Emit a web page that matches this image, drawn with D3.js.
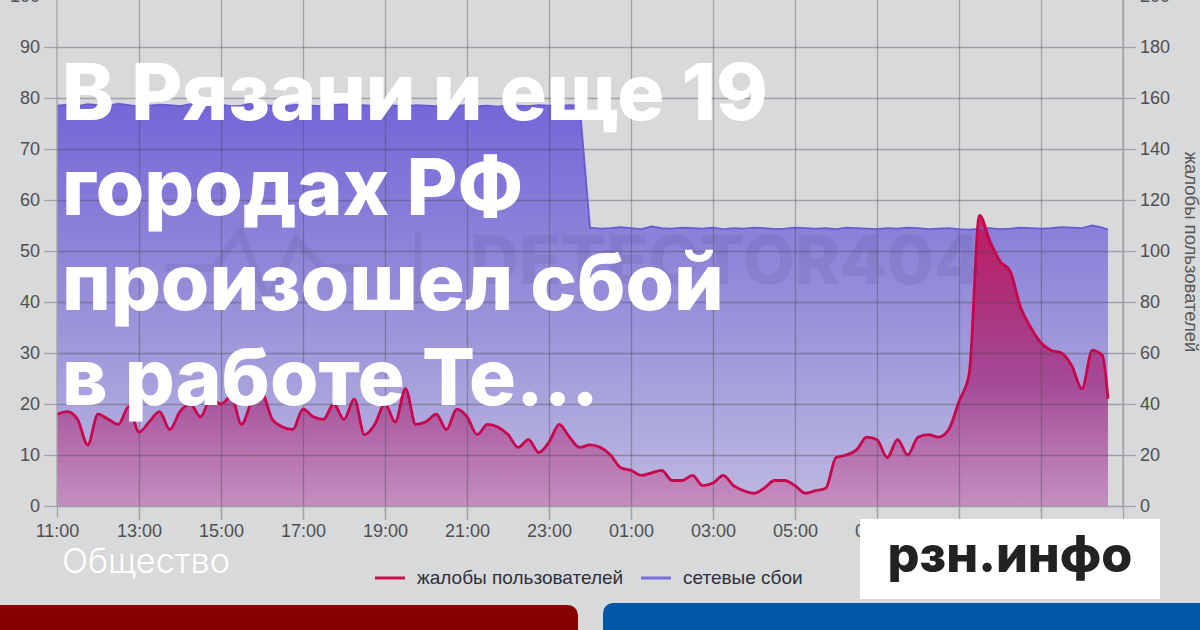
<!DOCTYPE html>
<html><head><meta charset="utf-8">
<script src="https://cdn.jsdelivr.net/npm/d3@7/dist/d3.min.js"></script>
<style>
html,body{margin:0;padding:0;background:#d8d9db;overflow:hidden}
svg{display:block}
</style></head><body>
<svg id="c" width="1200" height="630"></svg>
<script>
// ---------- data ----------
const leftTicks = [0,10,20,30,40,50,60,70,80,90,100];
const rightTicks = [0,20,40,60,80,100,120,140,160,180,200];
const timeTickLabels = ["11:00","13:00","15:00","17:00","19:00","21:00","23:00","01:00","03:00","05:00","07:00","09:00","11:00"];
const startTime = "11:00";
const stepMinutes = 15;
const endTime = "12:38";
// complaints (right axis, 0-200), every 15 minutes from 11:00
const complaints = [
  36,37,34,24,36,34,32,39,29,33,
  37,30,37,40,35,42,40,43,32,41,
  44,34,31,30,38,35,34,40,34,42,
  28,32,40,33,46,32,33,36,30,38,
  35,28,32,31,28,23,26,21,25,32,
  27,23,24,23,20,15,14,12,13,14,
  10,10,12,8,9,12,8,6,5,7,
  10,10,8,5,6,7,19,20,22,27,
  26,19,26,20,27,28,27,30,41,52,
  114,104,96,92,78,70,64,61,60,55,
  46,61,59,42
];
// network outages (left axis, 0-100)
const outages = [
  78.5,78.7,78.4,78.8,78.6,78.5,78.9,78.6,78.3,78.5,
  78.7,78.6,78.4,78.8,78.5,78.6,78.7,78.4,78.5,78.9,
  78.6,78.5,78.3,78.6,78.7,78.5,78.4,78.6,78.8,78.5,
  78.6,78.4,78.7,78.5,78.3,78.6,78.5,78.4,78.2,78.5,
  78.6,78.4,78.5,78.3,78.6,78.5,78.4,78.6,78.5,78.4,
  78.6,78.5,54.6,54.4,54.5,54.7,54.5,54.3,54.8,54.5,
  54.4,54.6,54.5,54.4,54.6,54.3,54.5,54.4,54.6,54.5,
  54.3,54.4,54.6,54.5,54.4,54.5,54.3,54.6,54.5,54.4,
  54.3,54.5,54.4,54.6,54.5,54.3,54.4,54.5,54.3,54.2,
  54.4,54.5,54.3,54.4,54.6,54.5,54.4,54.5,54.7,54.6,
  54.5,55.0,54.6,54.2
];
const seriesNames = ["жалобы пользователей","сетевые сбои"];
const rightAxisTitle = "жалобы пользователей";
const titleLines = ["В Рязани и еще 19","городах РФ","произошел сбой","в работе Те..."];
const rubric = "Общество";
const brand = "рзн.инфо";
const watermark = "DETECTOR404";

// ---------- setup ----------
const svg = d3.select("#c");
const W = 1200, H = 630;
const parse = d3.timeParse("%Y-%m-%d %H:%M");
const t0 = parse("2024-01-01 " + startTime);
const tEnd = parse("2024-01-02 " + endTime);
const times = complaints.map((_, i) => d3.timeMinute.offset(t0, i * stepMinutes));
times[times.length - 1] = tEnd;
const xDomainEnd = d3.timeHour.offset(t0, 26);

const x = d3.scaleTime().domain([t0, xDomainEnd]).range([57, 1123]);
const yL = d3.scaleLinear().domain([0, 100]).range([506, -4]);
const yR = d3.scaleLinear().domain([0, 200]).range([506, -4]);

const defs = svg.append("defs");
const pg = defs.append("linearGradient").attr("id","pg").attr("gradientUnits","userSpaceOnUse")
  .attr("x1",0).attr("x2",0).attr("y1",yL(80)).attr("y2",yL(0));
pg.append("stop").attr("offset","0").attr("stop-color","#7365d8");
pg.append("stop").attr("offset","0.5").attr("stop-color","#978fd9");
pg.append("stop").attr("offset","1").attr("stop-color","#bdb9e0");
const rg = defs.append("linearGradient").attr("id","rg").attr("gradientUnits","userSpaceOnUse")
  .attr("x1",0).attr("x2",0).attr("y1",yR(116)).attr("y2",yR(0));
rg.append("stop").attr("offset","0").attr("stop-color","#c8104e").attr("stop-opacity",0.9);
rg.append("stop").attr("offset","0.6").attr("stop-color","#a3146a").attr("stop-opacity",0.6);
rg.append("stop").attr("offset","1").attr("stop-color","#cc5a98").attr("stop-opacity",0.45);

svg.append("rect").attr("width",W).attr("height",H).attr("fill","#d8d9db");

// areas
const outData = times.map((t,i)=>({t, v: outages[i]}));
const cData = times.map((t,i)=>({t, v: complaints[i]}));
svg.append("path").datum(outData)
  .attr("d", d3.area().x(d=>x(d.t)).y0(yL(0)).y1(d=>yL(d.v)))
  .attr("fill","url(#pg)");
svg.append("path").datum(cData)
  .attr("d", d3.area().curve(d3.curveMonotoneX).x(d=>x(d.t)).y0(yR(0)).y1(d=>yR(d.v)))
  .attr("fill","url(#rg)");

// watermark
const wm = svg.append("g").attr("opacity",0.07);
wm.append("path").attr("d","M165,268 L215,268 L240,232 L268,302 L296,240 L322,268 L360,268")
  .attr("fill","none").attr("stroke","#1a1040").attr("stroke-width",8);
wm.append("rect").attr("x",415).attr("y",232).attr("width",6).attr("height",72).attr("fill","#1a1040");
wm.append("text").attr("x",470).attr("y",284).attr("font-family","Inter, sans-serif")
  .attr("font-weight",800).attr("font-size",68).attr("fill","#1a1040").text(watermark);

// grid
const gridColor = "rgba(70,70,80,0.38)";
const gY = svg.append("g").attr("transform","translate(57,0)")
  .call(d3.axisLeft(yL).tickValues(leftTicks).tickSize(-(1123-57)).tickFormat(""));
gY.selectAll("line").attr("stroke",gridColor).attr("stroke-width",1.3);
gY.select(".domain").remove();
const xTicks = d3.range(0, 27, 2).map(h => d3.timeHour.offset(t0, h));
const gX = svg.append("g").attr("transform","translate(0,520)")
  .call(d3.axisBottom(x).tickValues(xTicks.slice(1)).tickSize(-(520+10)).tickFormat(""));
gX.selectAll("line").attr("stroke",gridColor).attr("stroke-width",1.3);
gX.select(".domain").remove();

// lines
svg.append("path").datum(outData)
  .attr("d", d3.line().x(d=>x(d.t)).y(d=>yL(d.v)))
  .attr("fill","none").attr("stroke","#6a5bd0").attr("stroke-width",1.8);
svg.append("path").datum(cData)
  .attr("d", d3.line().curve(d3.curveMonotoneX).x(d=>x(d.t)).y(d=>yR(d.v)))
  .attr("fill","none").attr("stroke","#c8054c").attr("stroke-width",2.8).attr("stroke-linejoin","round");

// axes
const axFont = "'Liberation Sans', Arial, sans-serif";
const aL = svg.append("g").attr("transform","translate(57,0)")
  .call(d3.axisLeft(yL).tickValues(leftTicks).tickSize(13).tickPadding(4));
const aR = svg.append("g").attr("transform","translate(1123,0)")
  .call(d3.axisRight(yR).tickValues(rightTicks).tickSize(13).tickPadding(4));
const aB = svg.append("g").attr("transform","translate(0,506)")
  .call(d3.axisBottom(x).tickValues(xTicks.slice(0, timeTickLabels.length))
    .tickFormat((d,i)=>timeTickLabels[i]).tickSize(12).tickPadding(6));
[aL,aR,aB].forEach(g=>{
  g.selectAll("line").attr("stroke","#a2a3a6").attr("stroke-width",1.3);
  g.select(".domain").attr("stroke","#a2a3a6").attr("stroke-width",1.3);
  g.selectAll("text").attr("fill","#4e4f52").attr("font-family",axFont).attr("font-size",18);
});
aB.select(".domain").remove();
aL.select(".domain").attr("d", `M0,${yL(100)}V${yL(0)}`);
aR.select(".domain").attr("d", `M0,${yR(200)}V${yR(0)}`);

svg.append("text").attr("transform","translate(1185,252) rotate(90)")
  .attr("text-anchor","middle").attr("font-family",axFont).attr("font-size",18.5)
  .attr("fill","#55565a").text(rightAxisTitle);

// legend
const leg = svg.append("g").attr("font-family",axFont).attr("font-size",19).attr("fill","#2e2f3a");
const legColors = ["#c8104a","#7a6ed9"];
const legX = [375, 641];
seriesNames.forEach((n,i)=>{
  leg.append("line").attr("x1",legX[i]).attr("x2",legX[i]+30).attr("y1",578).attr("y2",578)
    .attr("stroke",legColors[i]).attr("stroke-width",3);
  leg.append("text").attr("x",legX[i]+42).attr("y",584).text(n);
});

// bottom bars
svg.append("rect").attr("x",-20).attr("y",605).attr("width",598).attr("height",60).attr("rx",10).attr("fill","#860000");
svg.append("rect").attr("x",603).attr("y",603).attr("width",620).attr("height",60).attr("rx",10).attr("fill","#0057a6");

// logo box
svg.append("rect").attr("x",860).attr("y",519).attr("width",300).attr("height",80).attr("fill","#ffffff");
const logo = svg.append("text").attr("x",1010).attr("y",572).attr("text-anchor","middle")
  .attr("font-family","Inter, sans-serif").attr("font-weight",800).attr("font-size",50)
  .attr("fill","#222222").text(brand);
(function fit(t, target){ const w = t.node().getComputedTextLength(); t.attr("font-size", +t.attr("font-size")*target/w); })(logo, 245);

// title
const titleG = svg.append("g").attr("font-family","Inter, sans-serif").attr("font-weight",800).attr("fill","#ffffff");
const baselines = [120, 215, 310, 405];
const tl = titleG.selectAll("text").data(titleLines).join("text")
  .attr("x",62).attr("y",(d,i)=>baselines[i]).attr("font-size",76).text(d=>d);
const w0 = tl.nodes()[0].getComputedTextLength();
tl.attr("font-size", 76*706/w0);

// rubric
const rub = svg.append("text").attr("x",62).attr("y",573).attr("font-family","Inter, sans-serif")
  .attr("font-weight",300).attr("font-size",30).attr("fill","#ffffff").text(rubric);
(function(){ const w = rub.node().getComputedTextLength(); rub.attr("font-size", 30*168/w); })();
</script>
</body></html>
